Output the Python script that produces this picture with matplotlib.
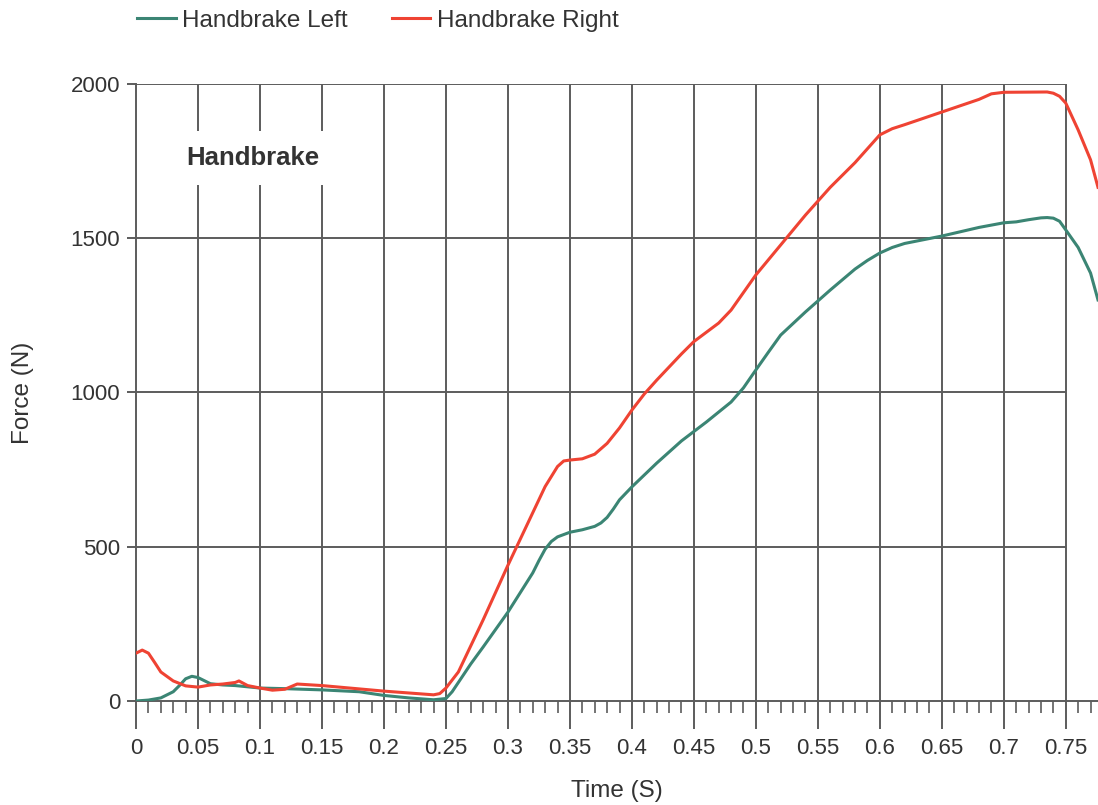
import matplotlib.pyplot as plt
from matplotlib.ticker import MultipleLocator

# readings
t_left = [0, 0.01, 0.02, 0.03, 0.035, 0.04, 0.045, 0.05, 0.055, 0.06, 0.07, 0.08, 0.1, 0.12,
          0.15, 0.18, 0.2, 0.22, 0.24, 0.25, 0.255, 0.27, 0.28, 0.3, 0.32, 0.325, 0.33, 0.335,
          0.34, 0.35, 0.36, 0.37, 0.375, 0.38, 0.385, 0.39, 0.4, 0.42, 0.44, 0.46, 0.48,
          0.49, 0.5, 0.51, 0.52, 0.54, 0.56, 0.58, 0.59, 0.6, 0.61, 0.62, 0.65, 0.68, 0.7,
          0.71, 0.72, 0.73, 0.735, 0.74, 0.745, 0.75, 0.76, 0.77, 0.776]
f_left = [0, 3, 10, 30, 50, 72, 80, 76, 66, 56, 52, 50, 42, 40,
          36, 30, 18, 10, 4, 8, 30, 120, 175, 288, 415, 455, 492, 517,
          532, 547, 555, 566, 577, 595, 622, 652, 694, 771, 843, 904, 969,
          1015, 1073, 1130, 1186, 1261, 1332, 1400, 1428, 1452, 1470, 1483, 1507, 1535, 1550,
          1553, 1560, 1566, 1567, 1565, 1555, 1527, 1470, 1387, 1300]

t_right = [0, 0.005, 0.01, 0.015, 0.02, 0.03, 0.04, 0.05, 0.06, 0.07, 0.08, 0.083, 0.09,
           0.1, 0.11, 0.12, 0.13, 0.15, 0.2, 0.22, 0.24, 0.245, 0.25, 0.26, 0.28, 0.3,
           0.32, 0.33, 0.34, 0.345, 0.35, 0.36, 0.37, 0.38, 0.39, 0.4, 0.41, 0.42, 0.44,
           0.45, 0.46, 0.47, 0.48, 0.5, 0.52, 0.54, 0.55, 0.56, 0.58, 0.59, 0.6, 0.61, 0.62,
           0.65, 0.68, 0.69, 0.7, 0.735, 0.74, 0.745, 0.75, 0.76, 0.77, 0.776]
f_right = [155, 165, 155, 125, 94, 65, 49, 45, 52, 55, 60, 65, 50,
           42, 35, 38, 55, 50, 32, 26, 20, 24, 42, 94, 263, 440,
           610, 695, 760, 778, 781, 785, 800, 835, 885, 943, 995, 1040, 1125,
           1165, 1195, 1225, 1267, 1381, 1478, 1575, 1620, 1665, 1745, 1790, 1835, 1855, 1868,
           1909, 1950, 1968, 1973, 1974, 1970, 1960, 1938, 1851, 1754, 1665]

y_grid = [500, 1000, 1500, 2000]
x_grid = [0.05, 0.1, 0.15, 0.2, 0.25, 0.3, 0.35, 0.4, 0.45, 0.5, 0.55, 0.6, 0.65, 0.7, 0.75]
x_labels = ["0", "0.05", "0.1", "0.15", "0.2", "0.25", "0.3", "0.35", "0.4", "0.45",
            "0.5", "0.55", "0.6", "0.65", "0.7", "0.75"]

green = '#3b8574'
red = '#ef4333'
gridc = '#5c5c5c'
txtc = '#333333'

plt.rcParams['font.family'] = ['Liberation Sans', 'DejaVu Sans']

fig = plt.figure(figsize=(10.98, 8.05), dpi=100)
ax = fig.add_axes([0.1239, 0.1292, 0.8761, 0.7665])

ax.hlines(y_grid, 0, 0.75, color=gridc, lw=1.4, zorder=1)
ax.vlines(x_grid, 0, 2000, color=gridc, lw=1.4, zorder=1)

ax.plot(t_left, f_left, color=green, lw=2.2, label='Handbrake Left', zorder=3)
ax.plot(t_right, f_right, color=red, lw=2.2, label='Handbrake Right', zorder=3)

ax.set_xlim(0, 0.776)
ax.set_ylim(0, 2000)

for s in ['top', 'right']:
    ax.spines[s].set_visible(False)
for s in ['left', 'bottom']:
    ax.spines[s].set_color(gridc)
    ax.spines[s].set_linewidth(1.4)
ax.spines['left'].set_bounds(0, 2000)

ax.set_xticks([0] + x_grid)
ax.set_xticklabels(x_labels, fontsize=16, color=txtc)
ax.xaxis.set_minor_locator(MultipleLocator(0.01))
ax.tick_params(axis='x', which='major', length=20, width=1.4, color=gridc, pad=7)
ax.tick_params(axis='x', which='minor', length=8.5, width=1.2, color=gridc)

ax.set_yticks([0] + y_grid)
ax.set_yticklabels(['0', '500', '1000', '1500', '2000'], fontsize=16, color=txtc)
ax.tick_params(axis='y', length=6.5, width=1.4, color=gridc, pad=5)

ax.set_xlabel('Time (S)', fontsize=17.5, color=txtc, labelpad=15)
ax.set_ylabel('Force (N)', fontsize=17.5, color=txtc, labelpad=26)

ax.text(0.0944, 1760, 'Handbrake', fontsize=18.5, fontweight='bold', color=txtc,
        ha='center', va='center', zorder=2,
        bbox=dict(facecolor='white', edgecolor='none', pad=11))

fig.legend(loc='center left', bbox_to_anchor=(0.125, 1 - 21 / 805), ncol=2, frameon=False,
           fontsize=17.5, handlelength=1.6, handletextpad=0.25, columnspacing=1.8,
           labelcolor=txtc, borderaxespad=0, borderpad=0)

fig.savefig('out.png', dpi=100)
